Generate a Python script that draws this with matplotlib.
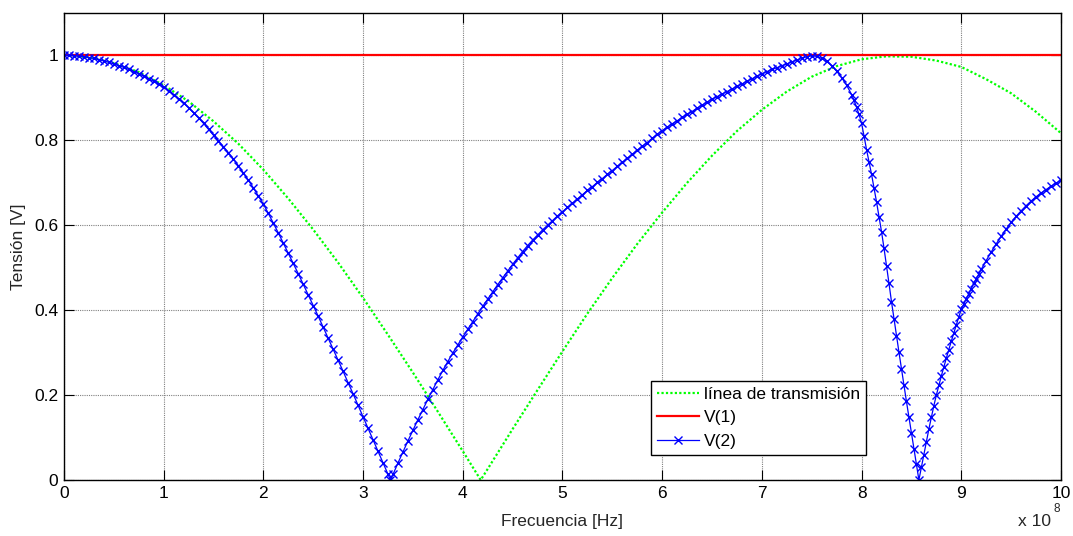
import numpy as np
import matplotlib
matplotlib.use("Agg")
import matplotlib.pyplot as plt

plt.rcParams['font.family'] = ['Liberation Sans', 'DejaVu Sans']

# Frequency axis in units of 1e8 Hz
freq_line = [0.0, 0.25, 0.5, 0.75, 1.0, 1.25, 1.5, 1.75, 2.0, 2.25, 2.5, 2.75,
             3.0, 3.25, 3.5, 3.75, 4.0, 4.18, 4.25, 4.5, 4.75, 5.0, 5.25, 5.5,
             5.75, 6.0, 6.25, 6.5, 6.75, 7.0, 7.25, 7.5, 7.75, 8.0, 8.25, 8.5,
             8.75, 9.0, 9.25, 9.5, 9.75, 10.0]
v_line = [1.000, 0.996, 0.982, 0.961, 0.930, 0.892, 0.845, 0.792, 0.731, 0.663,
          0.590, 0.512, 0.429, 0.342, 0.253, 0.161, 0.068, 0.000, 0.026, 0.120,
          0.212, 0.303, 0.392, 0.476, 0.556, 0.630, 0.700, 0.764, 0.822, 0.872,
          0.915, 0.950, 0.975, 0.991, 0.998, 0.997, 0.988, 0.973, 0.944, 0.911,
          0.867, 0.817]

freq_v1 = [0.0, 10.0]
v1 = [1.0, 1.0]

# V(2) sampled every 0.05e8 Hz
freq_v2_grid = np.round(np.linspace(0.0, 10.0, 201), 3)
v2_grid = [
    1.000, 1.000, 0.999, 0.998, 0.997, 0.995, 0.993, 0.990, 0.987, 0.984,
    0.980, 0.976, 0.972, 0.967, 0.962, 0.957, 0.951, 0.945, 0.939, 0.932,
    0.925, 0.917, 0.908, 0.898, 0.888, 0.877, 0.865, 0.853, 0.840, 0.826,
    0.812, 0.799, 0.785, 0.771, 0.756, 0.740, 0.723, 0.706, 0.688, 0.669,
    0.650, 0.628, 0.605, 0.582, 0.558, 0.534, 0.510, 0.486, 0.461, 0.436,
    0.411, 0.386, 0.360, 0.334, 0.308, 0.282, 0.256, 0.229, 0.203, 0.176,
    0.149, 0.122, 0.095, 0.068, 0.041, 0.014, 0.013, 0.040, 0.066, 0.092,
    0.117, 0.142, 0.166, 0.190, 0.213, 0.236, 0.258, 0.279, 0.299, 0.318,
    0.337, 0.355, 0.373, 0.391, 0.409, 0.426, 0.443, 0.460, 0.476, 0.492,
    0.508, 0.523, 0.538, 0.552, 0.565, 0.577, 0.589, 0.600, 0.611, 0.622,
    0.632, 0.642, 0.652, 0.662, 0.672, 0.682, 0.691, 0.701, 0.710, 0.720,
    0.729, 0.739, 0.748, 0.758, 0.767, 0.777, 0.786, 0.795, 0.805, 0.814,
    0.823, 0.831, 0.839, 0.846, 0.854, 0.861, 0.868, 0.876, 0.883, 0.890,
    0.897, 0.903, 0.909, 0.915, 0.921, 0.927, 0.933, 0.939, 0.945, 0.951,
    0.957, 0.962, 0.967, 0.971, 0.976, 0.980, 0.985, 0.989, 0.993, 0.997,
    0.999, 0.998, 0.993, 0.986, 0.976, 0.963, 0.948, 0.930, 0.908, 0.878,
    0.840, 0.778, 0.720, 0.655, 0.585, 0.505, 0.420, 0.340, 0.262, 0.185,
    0.110, 0.037, 0.030, 0.090, 0.148, 0.200, 0.245, 0.287, 0.327, 0.365,
    0.402, 0.427, 0.451, 0.474, 0.496, 0.517, 0.537, 0.556, 0.574, 0.591,
    0.607, 0.621, 0.634, 0.646, 0.657, 0.667, 0.676, 0.684, 0.692, 0.699,
    0.706,
]
# extra V(2) samples across the steep notch near 8.6e8 Hz, including the nulls
freq_v2_fine = [3.275,
                7.925, 7.975, 8.025, 8.075, 8.125, 8.175, 8.225, 8.275, 8.325,
                8.375, 8.425, 8.475, 8.525, 8.575, 8.625, 8.675, 8.725, 8.775,
                8.825, 8.875, 8.925, 8.975, 9.025, 9.075, 9.125, 9.175]
v2_fine = [0.000,
           0.894, 0.861, 0.810, 0.749, 0.688, 0.620, 0.546, 0.463, 0.380,
           0.301, 0.224, 0.148, 0.074, 0.000, 0.060, 0.120, 0.175, 0.223,
           0.266, 0.307, 0.346, 0.384, 0.415, 0.439, 0.463, 0.485]

x_ticks = [0, 1, 2, 3, 4, 5, 6, 7, 8, 9, 10]
y_ticks = [0, 0.2, 0.4, 0.6, 0.8, 1.0]
y_tick_labels = ['0', '0.2', '0.4', '0.6', '0.8', '1']
labels = ['línea de transmisión', 'V(1)', 'V(2)']

freq_v2 = np.concatenate([freq_v2_grid, freq_v2_fine])
v2 = np.concatenate([v2_grid, v2_fine])
order = np.argsort(freq_v2, kind='stable')
freq_v2, v2 = freq_v2[order], v2[order]

FS = 12.5

fig = plt.figure(figsize=(10.73, 5.36), dpi=100)
ax = fig.add_axes([0.0596, 0.1045, 0.9292, 0.8712])

ax.plot(freq_line, v_line, color=(0, 1, 0), linestyle=(0, (1, 1)), linewidth=1.6,
        label=labels[0])
ax.plot(freq_v1, v1, color=(1, 0, 0), linewidth=1.6, label=labels[1])
ax.plot(freq_v2, v2, color=(0, 0, 1), linewidth=0.9, marker='x', markersize=5.5,
        markeredgewidth=1.0, label=labels[2])

ax.set_xlim(0, 10)
ax.set_ylim(0, 1.1)
ax.set_xticks(x_ticks)
ax.set_yticks(y_ticks)
ax.set_yticklabels(y_tick_labels)
ax.tick_params(direction='in', length=7, width=0.8, top=True, right=True,
               labelsize=FS, colors='black', pad=4)
ax.grid(True, color=(0.5, 0.5, 0.5), linestyle=(0, (1, 1)), linewidth=0.8)
for s in ax.spines.values():
    s.set_linewidth(1.0)
    s.set_color('black')

ax.set_xlabel('Frecuencia [Hz]', fontsize=FS, labelpad=10, color=(0.15, 0.15, 0.15))
ax.set_ylabel('Tensión [V]', fontsize=FS, labelpad=6, color=(0.15, 0.15, 0.15))

ax.text(0.957, -0.088, 'x 10', transform=ax.transAxes, fontsize=FS,
        ha='left', va='center', color=(0.15, 0.15, 0.15))
ax.text(0.992, -0.062, '8', transform=ax.transAxes, fontsize=8.5,
        ha='left', va='center', color=(0.15, 0.15, 0.15))

leg = ax.legend(loc='lower left', bbox_to_anchor=(0.589, 0.0535),
                borderaxespad=0, fancybox=False, framealpha=1,
                edgecolor='black', fontsize=FS, handlelength=2.4,
                handletextpad=0.3, labelspacing=0.48, borderpad=0.35)
leg.get_frame().set_linewidth(1.0)

fig.savefig('out.png', dpi=100)
